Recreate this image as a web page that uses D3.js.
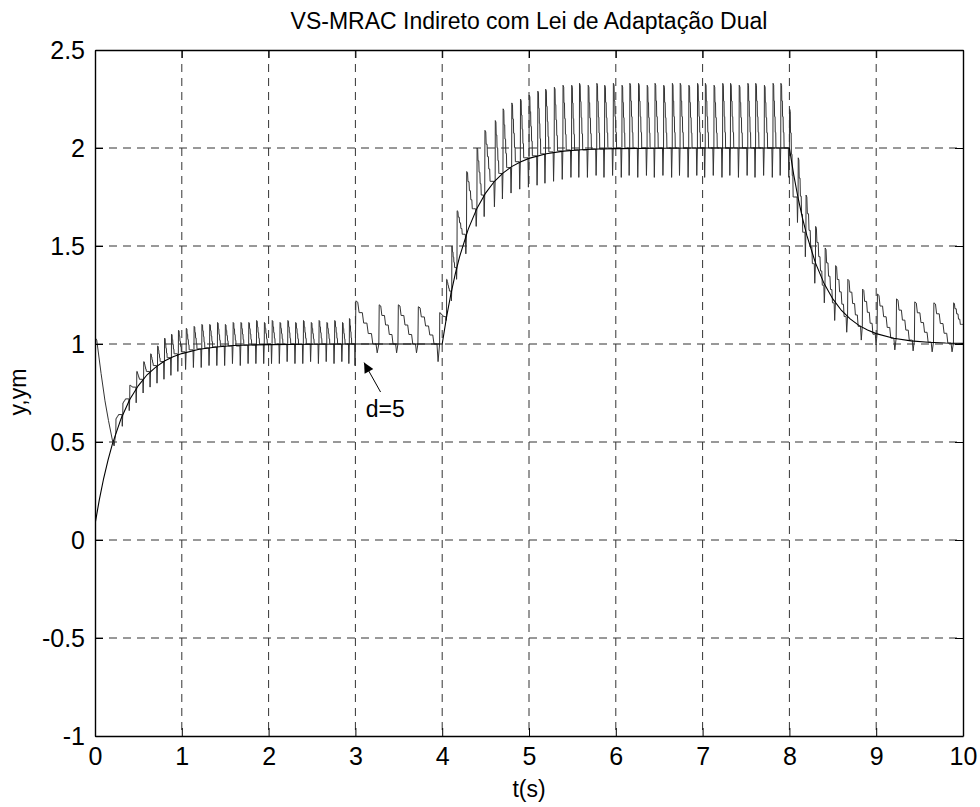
<!DOCTYPE html>
<html>
<head>
<meta charset="utf-8">
<script src="https://cdnjs.cloudflare.com/ajax/libs/d3/7.8.5/d3.min.js"></script>
<style>
    body { margin: 0; background: #fff; }
    text { font-family: "Liberation Sans", Arial, Helvetica, sans-serif; fill: #000; }
</style>
</head>
<body>
<div id="chart"></div>
<script>
// Tick values and their labels
const tickX = [0, 1, 2, 3, 4, 5, 6, 7, 8, 9, 10];
const tickXLabels = ["0", "1", "2", "3", "4", "5", "6", "7", "8", "9", "10"];
const tickY = [-1, -0.5, 0, 0.5, 1, 1.5, 2, 2.5];
const tickYLabels = ["-1", "-0.5", "0", "0.5", "1", "1.5", "2", "2.5"];

// Reference model output ym(t)
const ymT = [0, 0.05, 0.1, 0.15, 0.2, 0.3, 0.4, 0.5, 0.6, 0.7, 0.8, 0.9, 1.0, 1.2, 1.4, 1.6, 1.8, 2.0, 2.5, 3.0,
             4.0, 4.05, 4.1, 4.15, 4.2, 4.3, 4.4, 4.5, 4.6, 4.7, 4.8, 4.9, 5.0, 5.2, 5.4, 5.6, 5.8, 6.0, 6.5, 7.0,
             8.0, 8.05, 8.1, 8.15, 8.2, 8.3, 8.4, 8.5, 8.6, 8.7, 8.8, 8.9, 9.0, 9.2, 9.4, 9.6, 9.8, 10.0];
const ymV = [0.08, 0.206, 0.315, 0.408, 0.489, 0.619, 0.717, 0.788, 0.843, 0.882, 0.913, 0.935, 0.951, 0.973, 0.985, 0.992, 0.995, 0.997, 0.999, 1.0,
             1.0, 1.137, 1.255, 1.357, 1.445, 1.586, 1.692, 1.770, 1.829, 1.872, 1.905, 1.929, 1.947, 1.971, 1.984, 1.991, 1.995, 1.997, 1.999, 2.0,
             2.0, 1.863, 1.745, 1.643, 1.555, 1.414, 1.308, 1.230, 1.171, 1.128, 1.095, 1.071, 1.053, 1.029, 1.016, 1.009, 1.005, 1.003];

// Plant output y(t): initial transient before switching starts
const y0T = [0, 0.005, 0.02, 0.07, 0.115, 0.155, 0.2, 0.22];
const y0V = [0.87, 1.03, 1.02, 0.85, 0.71, 0.61, 0.51, 0.48];

// Plant output y(t): switching teeth
// start time, peak, spike low at the end, level at the start, fraction of the period the fall lasts
const toothT = [0.24, 0.32, 0.40, 0.48, 0.56, 0.64, 0.72, 0.80, 0.88, 0.96, 1.05, 1.14, 1.23, 1.32, 1.41, 1.50,
                1.59, 1.68, 1.77, 1.86, 1.95, 2.04, 2.13, 2.22, 2.31, 2.40, 2.49, 2.58, 2.67, 2.76, 2.85, 2.93,
                3.00, 3.27, 3.49, 3.72,
                3.97, 4.05, 4.11, 4.17, 4.28, 4.40, 4.49, 4.61, 4.70, 4.80, 4.90,
                5.00, 5.10, 5.19, 5.29, 5.39, 5.49, 5.58, 5.68, 5.78, 5.87, 5.97, 6.07, 6.16, 6.26, 6.36, 6.45,
                6.55, 6.65, 6.74, 6.84, 6.94, 7.03, 7.13, 7.23, 7.32, 7.42, 7.52, 7.61, 7.71, 7.81, 7.90,
                8.00, 8.10, 8.19, 8.30, 8.41, 8.53, 8.67, 8.84, 9.01, 9.23, 9.44, 9.66, 9.89, 10.0];
const toothHi = [0.62, 0.70, 0.79, 0.86, 0.91, 0.95, 0.99, 1.03, 1.05, 1.07, 1.08, 1.09, 1.10, 1.10, 1.11, 1.10,
                 1.11, 1.11, 1.11, 1.12, 1.11, 1.12, 1.11, 1.12, 1.11, 1.12, 1.11, 1.12, 1.11, 1.12, 1.11, 1.13,
                 1.22, 1.20, 1.20, 1.19,
                 1.16, 1.33, 1.50, 1.68, 1.88, 2.00, 2.09, 2.14, 2.20, 2.23, 2.25,
                 2.27, 2.29, 2.30, 2.31, 2.32, 2.32, 2.33, 2.32, 2.33, 2.32, 2.33, 2.32, 2.33, 2.33, 2.32, 2.33,
                 2.32, 2.33, 2.33, 2.32, 2.33, 2.33, 2.32, 2.33, 2.33, 2.32, 2.33, 2.33, 2.32, 2.33, 2.33,
                 2.20, 1.95, 1.76, 1.60, 1.49, 1.40, 1.33, 1.28, 1.255, 1.23, 1.215, 1.21, 1.21, 1.10];
const toothLo = [0.58, 0.66, 0.70, 0.75, 0.78, 0.80, 0.82, 0.84, 0.86, 0.87, 0.88, 0.88, 0.89, 0.89, 0.89, 0.90,
                 0.89, 0.90, 0.90, 0.90, 0.90, 0.90, 0.91, 0.90, 0.90, 0.91, 0.90, 0.91, 0.90, 0.91, 0.90, 0.89,
                 0.955, 0.955, 0.955, 0.91,
                 1.12, 1.22, 1.33, 1.46, 1.60, 1.65, 1.70, 1.74, 1.77, 1.79, 1.80,
                 1.81, 1.82, 1.83, 1.84, 1.85, 1.85, 1.85, 1.86, 1.85, 1.86, 1.85, 1.86, 1.85, 1.86, 1.85, 1.86,
                 1.85, 1.86, 1.85, 1.86, 1.85, 1.86, 1.85, 1.86, 1.85, 1.86, 1.85, 1.86, 1.85, 1.86, 1.85,
                 1.62, 1.445, 1.31, 1.21, 1.12, 1.06, 1.02, 0.995, 0.97, 0.965, 0.96, 0.96, 1.10, 1.10];
const toothBase = [0.55, 0.64, 0.72, 0.78, 0.82, 0.86, 0.89, 0.91, 0.93, 0.95, 0.96, 0.97, 0.975, 0.98, 0.985, 0.99,
                   0.99, 0.99, 0.995, 0.995, 1.0, 1.0, 1.0, 1.0, 1.0, 1.0, 1.0, 1.0, 1.0, 1.0, 1.0, 1.0,
                   1.0, 1.0, 1.0, 1.0,
                   1.0, 1.14, 1.27, 1.39, 1.56, 1.69, 1.76, 1.83, 1.87, 1.90, 1.93,
                   1.95, 1.96, 1.97, 1.98, 1.985, 1.99, 1.99, 1.99, 1.995, 1.995, 2.0, 2.0, 2.0, 2.0, 2.0, 2.0,
                   2.0, 2.0, 2.0, 2.0, 2.0, 2.0, 2.0, 2.0, 2.0, 2.0, 2.0, 2.0, 2.0, 2.0, 2.0,
                   2.0, 1.75, 1.57, 1.41, 1.30, 1.21, 1.14, 1.09, 1.05, 1.03, 1.02, 1.01, 1.005, 1.10];
const toothFall = [0.45, 0.45, 0.45, 0.45, 0.45, 0.45, 0.45, 0.45, 0.45, 0.45, 0.45, 0.45, 0.45, 0.45, 0.45, 0.45,
                   0.45, 0.45, 0.45, 0.45, 0.45, 0.45, 0.45, 0.45, 0.45, 0.45, 0.45, 0.45, 0.45, 0.45, 0.45, 0.45,
                   0.88, 0.88, 0.88, 0.88,
                   0.65, 0.65, 0.65, 0.65, 0.65, 0.65, 0.6, 0.55, 0.5, 0.5, 0.45,
                   0.45, 0.45, 0.45, 0.45, 0.45, 0.45, 0.45, 0.45, 0.45, 0.45, 0.45, 0.45, 0.45, 0.45, 0.45, 0.45,
                   0.45, 0.45, 0.45, 0.45, 0.45, 0.45, 0.45, 0.45, 0.45, 0.45, 0.45, 0.45, 0.45, 0.45, 0.45,
                   0.5, 0.7, 0.8, 0.85, 0.85, 0.85, 0.85, 0.85, 0.85, 0.85, 0.85, 0.85, 0.85, 0.85];

// Annotation "d=5": arrow tail, arrow tip, text anchor (data units)
const annotation = { label: "d=5", tail: [3.29, 0.755], tip: [3.10, 0.905], text: [3.12, 0.63] };

// Build the y(t) polyline from the transient and the teeth
function buildPlantPoints() {
    const pts = y0T.map((t, i) => [t, y0V[i]]);
    for (let i = 0; i < toothT.length - 1; i++) {
        const t0 = toothT[i], p = toothT[i + 1] - t0;
        const hi = toothHi[i], lo = toothLo[i], f = toothFall[i];
        const b0 = toothBase[i], b1 = toothBase[i + 1];
        const top = hi - 0.03 * (hi - b1);
        pts.push([t0, b0], [t0 + 0.02 * p, hi], [t0 + 0.1 * p, top]);
        // staircase fall back to the next level
        const w = (f - 0.1) / 4;
        for (let k = 1; k <= 4; k++) {
            const lev = top - k * (top - b1) / 4;
            const a = 0.1 + (k - 1) * w;
            pts.push([t0 + (a + 0.3 * w) * p, lev], [t0 + (a + w) * p, lev]);
        }
        if (f < 0.88) pts.push([t0 + 0.88 * p, b1]);
        pts.push([t0 + 0.93 * p, lo]);
    }
    const n = toothT.length - 1;
    pts.push([toothT[n], toothBase[n]]);
    return pts;
}

function renderChart() {
    const W = 980, H = 807;
    const margin = { top: 50, right: 17, bottom: 71, left: 95 };
    const width = W - margin.left - margin.right;
    const height = H - margin.top - margin.bottom;

    const svg = d3.select("#chart")
        .append("svg")
        .attr("width", W)
        .attr("height", H)
        .append("g")
        .attr("transform", `translate(${margin.left},${margin.top})`);

    const x = d3.scaleLinear().domain([0, 10]).range([0, width]);
    const y = d3.scaleLinear().domain([-1, 2.5]).range([height, 0]);

    // Dashed grid
    svg.append("g")
        .selectAll("line")
        .data(tickX.slice(1, -1))
        .join("line")
        .attr("x1", d => x(d)).attr("x2", d => x(d))
        .attr("y1", 0).attr("y2", height)
        .attr("stroke", "#333").attr("stroke-width", 1)
        .attr("stroke-dasharray", "8,6");
    svg.append("g")
        .selectAll("line")
        .data(tickY.slice(1, -1))
        .join("line")
        .attr("y1", d => y(d)).attr("y2", d => y(d))
        .attr("x1", 0).attr("x2", width)
        .attr("stroke", "#333").attr("stroke-width", 1)
        .attr("stroke-dasharray", "8,6");

    // Clip for data lines
    svg.append("clipPath").attr("id", "plot-clip")
        .append("rect").attr("width", width).attr("height", height);

    const line = d3.line().x(d => x(d[0])).y(d => y(d[1]));

    // Plant output y
    svg.append("path")
        .datum(buildPlantPoints())
        .attr("clip-path", "url(#plot-clip)")
        .attr("fill", "none")
        .attr("stroke", "#333")
        .attr("stroke-width", 1)
        .attr("d", line);

    // Reference model output ym
    svg.append("path")
        .datum(ymT.map((t, i) => [t, ymV[i]]))
        .attr("clip-path", "url(#plot-clip)")
        .attr("fill", "none")
        .attr("stroke", "#000")
        .attr("stroke-width", 1.1)
        .attr("d", line);

    // Axes: ticks inside on all four sides
    const styleAxis = g => {
        g.select(".domain").attr("stroke", "#000").attr("stroke-width", 1.4);
        g.selectAll(".tick line").attr("stroke", "#000").attr("stroke-width", 1);
        g.selectAll(".tick text").style("font-size", "25px");
    };
    svg.append("g")
        .attr("transform", `translate(0,${height})`)
        .call(d3.axisBottom(x).tickValues(tickX).tickFormat((d, i) => tickXLabels[i])
            .tickSizeInner(-8).tickSizeOuter(0).tickPadding(11))
        .call(styleAxis);
    svg.append("g")
        .call(d3.axisLeft(y).tickValues(tickY).tickFormat((d, i) => tickYLabels[i])
            .tickSizeInner(-8).tickSizeOuter(0).tickPadding(10))
        .call(styleAxis);
    svg.append("g")
        .call(d3.axisTop(x).tickValues(tickX).tickFormat("").tickSizeInner(-8).tickSizeOuter(0))
        .call(styleAxis);
    svg.append("g")
        .attr("transform", `translate(${width},0)`)
        .call(d3.axisRight(y).tickValues(tickY).tickFormat("").tickSizeInner(-8).tickSizeOuter(0))
        .call(styleAxis);

    // Annotation arrow with filled head
    svg.append("defs").append("marker")
        .attr("id", "arrowhead")
        .attr("viewBox", "0 0 10 10")
        .attr("refX", 10).attr("refY", 5)
        .attr("markerWidth", 14).attr("markerHeight", 10)
        .attr("markerUnits", "userSpaceOnUse")
        .attr("orient", "auto")
        .append("path").attr("d", "M0,0 L10,5 L0,10 z").attr("fill", "#000");
    svg.append("line")
        .attr("x1", x(annotation.tail[0])).attr("y1", y(annotation.tail[1]))
        .attr("x2", x(annotation.tip[0])).attr("y2", y(annotation.tip[1]))
        .attr("stroke", "#000").attr("stroke-width", 1)
        .attr("marker-end", "url(#arrowhead)");
    svg.append("text")
        .attr("x", x(annotation.text[0]))
        .attr("y", y(annotation.text[1]))
        .style("font-size", "23px")
        .text(annotation.label);

    // Labels and title
    svg.append("text")
        .attr("x", width / 2)
        .attr("y", height + 61)
        .attr("text-anchor", "middle")
        .style("font-size", "23px")
        .text("t(s)");
    svg.append("text")
        .attr("transform", "rotate(-90)")
        .attr("x", -(height / 2) + 1)
        .attr("y", -margin.left + 26)
        .attr("text-anchor", "middle")
        .style("font-size", "23px")
        .text("y,ym");
    svg.append("text")
        .attr("x", width / 2)
        .attr("y", -21)
        .attr("text-anchor", "middle")
        .style("font-size", "23px")
        .text("VS-MRAC Indireto com Lei de Adaptação Dual");
}

document.addEventListener("DOMContentLoaded", renderChart);
</script>
</body>
</html>
